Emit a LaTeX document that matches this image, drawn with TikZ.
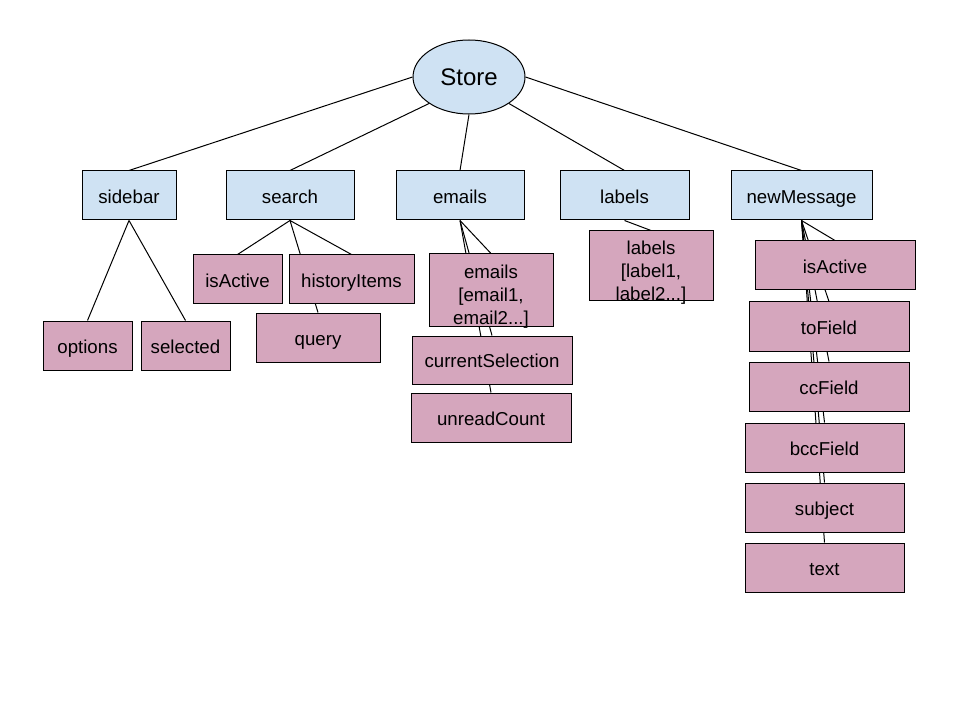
\documentclass[tikz,border=0pt]{standalone}
\usepackage{fontspec}
\setmainfont{Liberation Sans}
\usetikzlibrary{shapes.geometric,backgrounds}
\definecolor{storeblue}{HTML}{CFE2F3}
\definecolor{leafpink}{HTML}{D5A6BD}
\begin{document}
\begin{tikzpicture}[x=0.75pt,y=-0.75pt,
  sz/.style 2 args={minimum width=#1*0.75pt, minimum height=#2*0.75pt},
  base/.style={draw=black, line width=0.75pt, inner sep=0pt, align=center,
    font=\fontsize{14}{16.9}\selectfont},
  oneline/.style={text height=13.5pt, text depth=2pt},
  listtext/.style={inner sep=0pt, align=center, yshift=-5pt,
    font=\fontsize{14}{17.25}\selectfont},
  bluebox/.style={base, oneline, rectangle, fill=storeblue},
  pinkbox/.style={base, oneline, rectangle, fill=leafpink},
  pinklist/.style={base, rectangle, fill=leafpink},
  rootnode/.style={base, ellipse, fill=storeblue, font=\fontsize{18}{20}\selectfont},
  link/.style={draw=black, line width=0.75pt}]
\useasboundingbox (0,0) rectangle (960,720);

% root and first level
\node[rootnode, sz={112}{74}] (store) at (469,77) {Store};
\node[bluebox, sz={94}{49}]  (sidebar) at (129,195.5) {sidebar};
\node[bluebox, sz={128}{49}] (search) at (290,195.5) {search};
\node[bluebox, sz={128}{49}] (emails) at (460,195.5) {emails};
\node[bluebox, sz={129}{49}] (labels) at (624.5,195.5) {labels};
\node[bluebox, sz={141}{49}] (newmsg) at (801.5,195.5) {newMessage};

% leaf boxes
\node[pinkbox, sz={89}{49}]  (options) at (87.5,345.5) {options};
\node[pinkbox, sz={89}{49}]  (selected) at (185.5,345.5) {selected};
\node[pinkbox, sz={89}{49}]  (sactive) at (237.5,279.5) {isActive};
\node[pinkbox, sz={125}{49}] (history) at (351.5,279.5) {historyItems};
\node[pinkbox, sz={124}{49}] (query) at (318,337.5) {query};
\node[pinklist, sz={124}{72}] (emaillist) at (491,290) {};
\node[listtext] (emaillisttext) at (emaillist.center) {emails\\{}[email1,\\email2...]};
\node[pinkbox, sz={160}{48}] (cursel) at (492,360) {currentSelection};
\node[pinkbox, sz={160}{49}] (unread) at (491,417.5) {unreadCount};
\node[pinklist, sz={124}{70}] (labellist) at (651,266) {};
\node[listtext] (labellisttext) at (labellist.center) {labels\\{}[label1,\\label2...]};
\node[pinkbox, sz={160}{49}] (nactive) at (835,265.5) {isActive};
\node[pinkbox, sz={160}{49}] (tofield) at (829,326.5) {toField};
\node[pinkbox, sz={160}{49}] (ccfield) at (829,386.5) {ccField};
\node[pinkbox, sz={159}{49}] (bccfield) at (824.5,447.5) {bccField};
\node[pinkbox, sz={159}{49}] (subject) at (824.5,507.5) {subject};
\node[pinkbox, sz={159}{49}] (textbox) at (824.5,567.5) {text};

% connectors sit behind the boxes
\begin{scope}[on background layer]
\fill[white] (0,0) rectangle (960,720);
\draw[link] (store.west) -- (sidebar.north);
\draw[link] (store.south west) -- (search.north);
\draw[link] (store.south) -- (emails.north);
\draw[link] (store.south east) -- (labels.north);
\draw[link] (store.east) -- (newmsg.north);
\draw[link] (sidebar.south) -- (options.north);
\draw[link] (sidebar.south) -- (selected.north);
\draw[link] (search.south) -- (sactive.north);
\draw[link] (search.south) -- (history.north);
\draw[link] (search.south) -- (query.north);
\draw[link] (emails.south) -- (emaillist.north);
\draw[link] (emails.south) -- (cursel.north);
\draw[link] (emails.south) -- (unread.north);
\draw[link] (labels.south) -- (labellist.north);
\draw[link] (newmsg.south) -- (nactive.north);
\draw[link] (newmsg.south) -- (tofield.north);
\draw[link] (newmsg.south) -- (ccfield.north);
\draw[link] (newmsg.south) -- (bccfield.north);
\draw[link] (newmsg.south) -- (subject.north);
\draw[link] (newmsg.south) -- (textbox.north);
\end{scope}
\end{tikzpicture}
\end{document}
